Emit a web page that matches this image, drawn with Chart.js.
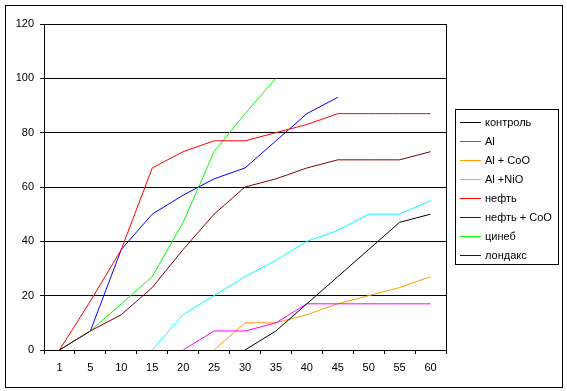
<!DOCTYPE html>
<html>
<head>
<meta charset="utf-8">
<script src="https://cdn.jsdelivr.net/npm/chart.js@4"></script>
<style>
  body { margin: 0; background: #fff; }
  #wrap { position: relative; width: 567px; height: 391px; }
  #legend {
    position: absolute; left: 456px; top: 110px; width: 103px; height: 155px;
    font: 11px "Liberation Sans", Arial, sans-serif; color: #000;
  }
  .item { position: absolute; left: 29px; height: 14px; line-height: 14px; white-space: nowrap; }
</style>
</head>
<body>
<div id="wrap">
  <canvas id="chart" width="567" height="391"></canvas>
  <div id="legend"></div>
</div>
<script>
// Data
const categories = ['1', '5', '10', '15', '20', '25', '30', '35', '40', '45', '50', '55', '60'];
const seriesNames = ['контроль', 'Al', 'Al + CoO', 'Al +NiO', 'нефть', 'нефть + CoO', 'цинеб', 'лондакс'];
const seriesColors = ['#000000', '#FF00FF', '#FF9900', '#00FFFF', '#FF0000', '#800000', '#00FF00', '#0000FF'];

const control = [null, null, null, null, null, null, 0, 7, 17, 27, 37, 47, 50];
const al      = [null, null, null, null, 0, 7, 7, 10, 17, 17, 17, 17, 17];
const alCoO   = [null, null, null, null, null, 0, 10, 10, 13, 17, 20, 23, 27];
const alNiO   = [null, null, null, 0, 13, 20, 27, 33, 40, 44, 50, 50, 55];
const oil     = [0, 18, 37, 67, 73, 77, 77, 80, 83, 87, 87, 87, 87];
const oilCoO  = [0, 7, 13, 23, 37, 50, 60, 63, 67, 70, 70, 70, 73];
const zineb   = [0, 7, 17, 27, 47, 73, 87, 100, null, null, null, null, null];
const londax  = [0, 7, 37, 50, 57, 63, 67, 77, 87, 93, null, null, null];

const yTicks = [0, 20, 40, 60, 80, 100, 120];

const allSeries = [control, al, alCoO, alNiO, oil, oilCoO, zineb, londax];

const font = { family: '"Liberation Sans", Arial, sans-serif', size: 11 };

// frames (chart area, whole picture) and the legend box with its line marks
const framePlugin = {
  id: 'frame',
  afterDraw(chart) {
    const ctx = chart.ctx;
    const a = chart.chartArea;
    ctx.save();
    ctx.strokeStyle = '#000';
    ctx.lineWidth = 1;
    ctx.strokeRect(Math.round(a.left) + 0.5, Math.round(a.top) + 0.5,
      Math.round(a.right - a.left), Math.round(a.bottom - a.top));
    ctx.strokeRect(5.5, 5.5, 557, 382);

    // legend box
    ctx.fillStyle = '#fff';
    ctx.fillRect(455, 109, 104, 156);
    ctx.strokeRect(455.5, 109.5, 103, 155);
    seriesColors.forEach((c, i) => {
      const y = 122 + i * 19 + 0.5;
      ctx.strokeStyle = c;
      ctx.beginPath();
      ctx.moveTo(460, y);
      ctx.lineTo(481, y);
      ctx.stroke();
    });
    ctx.restore();
  }
};

new Chart(document.getElementById('chart'), {
  type: 'line',
  data: {
    labels: categories,
    datasets: allSeries.map((d, i) => ({
      label: seriesNames[i],
      data: d,
      borderColor: seriesColors[i],
      borderWidth: 1,
      pointRadius: 0,
      tension: 0,
      fill: false
    }))
  },
  options: {
    responsive: false,
    animation: false,
    layout: { padding: { left: 0, right: 121, top: 24, bottom: 0 } },
    plugins: { legend: { display: false }, tooltip: { enabled: false } },
    scales: {
      x: {
        offset: true,
        grid: { offset: true, drawOnChartArea: false, color: '#000', tickLength: 4 },
        border: { color: '#000' },
        ticks: { color: '#000', font: font, padding: 7, maxRotation: 0 },
        afterFit(s) { s.height = 41; }
      },
      y: {
        min: 0,
        max: 120,
        afterBuildTicks(s) { s.ticks = yTicks.map(v => ({ value: v })); },
        grid: { color: '#000', tickLength: 4 },
        border: { color: '#000' },
        ticks: { color: '#000', font: font, padding: 6 },
        afterFit(s) { s.width = 44; }
      }
    }
  },
  plugins: [framePlugin]
});

// Legend text
const legend = document.getElementById('legend');
seriesNames.forEach((name, i) => {
  const div = document.createElement('div');
  div.className = 'item';
  div.style.top = (5 + i * 19) + 'px';
  div.textContent = name;
  legend.appendChild(div);
});
</script>
</body>
</html>
